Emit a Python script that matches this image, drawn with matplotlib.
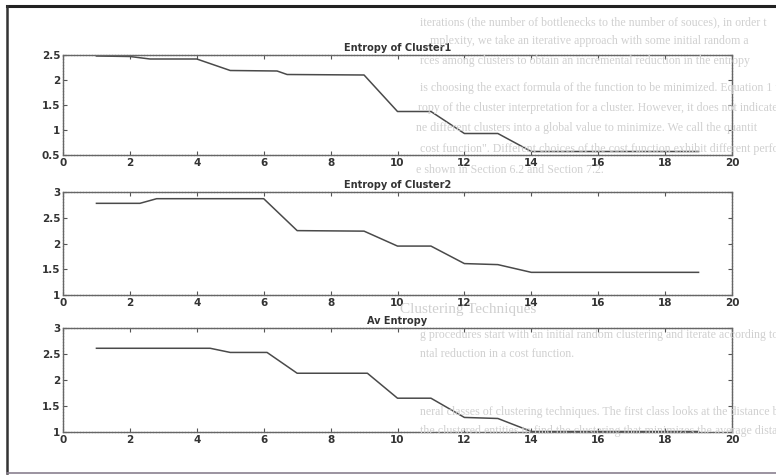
import matplotlib
matplotlib.use("Agg")
import matplotlib.pyplot as plt
from matplotlib.lines import Line2D

# entropy per cluster over iterations
x1 = [1, 2, 2.6, 4, 5, 6.4, 6.7, 9, 10, 11, 12, 13, 14, 19]
y1 = [2.48, 2.47, 2.42, 2.42, 2.19, 2.18, 2.11, 2.10, 1.37, 1.37, 0.93, 0.93, 0.57, 0.57]

x2 = [1, 2.3, 2.8, 6, 7, 9, 10, 11, 12, 13, 14, 19]
y2 = [2.78, 2.78, 2.87, 2.87, 2.25, 2.24, 1.95, 1.95, 1.61, 1.59, 1.44, 1.44]

x3 = [1, 4.4, 5, 6.1, 7, 9.1, 10, 11, 12, 13, 14, 19]
y3 = [2.61, 2.61, 2.53, 2.53, 2.13, 2.13, 1.65, 1.65, 1.28, 1.26, 1.01, 1.01]

titles = ["Entropy of Cluster1", "Entropy of Cluster2", "Av Entropy"]
ylims = [(0.5, 2.5), (1, 3), (1, 3)]
yticks = [[0.5, 1, 1.5, 2, 2.5], [1, 1.5, 2, 2.5, 3], [1, 1.5, 2, 2.5, 3]]
xticks = list(range(0, 21, 2))

# faint page text showing through the scan (x, y in pixels)
bg_lines = [
    (420, 22, "iterations (the number of bottlenecks to the number of souces), in order t"),
    (430, 41, "mplexity, we take an iterative approach with some initial random a"),
    (420, 61, "rces among clusters to obtain an incremental reduction in the entropy"),
    (420, 88, "is choosing the exact formula of the function to be minimized. Equation 1 t"),
    (418, 108, "ropy of the cluster interpretation for a cluster. However, it does not indicate ho"),
    (416, 128, "ne different clusters into a global value to minimize. We call the quantit"),
    (420, 149, "cost function\". Different choices of the cost function exhibit different perfo"),
    (416, 170, "e shown in Section 6.2 and Section 7.2."),
    (400, 310, "Clustering Techniques"),
    (420, 335, "g procedures start with an initial random clustering and iterate according to t"),
    (420, 354, "ntal reduction in a cost function."),
    (420, 412, "neral classes of clustering techniques. The first class looks at the distance b"),
    (420, 431, "the clustered entities to find the clustering that minimizes the average dista"),
]

W, H = 776, 476
fig = plt.figure(figsize=(W / 100, H / 100), dpi=100)
fig.patch.set_facecolor("white")

for bx, by, s in bg_lines:
    fs = 11 if s == "Clustering Techniques" else 8.6
    t = fig.text(bx / W, 1 - by / H, s, fontsize=fs, family="Liberation Serif",
                 color="#d0d0d0", va="center", ha="left", zorder=0)
    t.set_clip_on(True)
    t.set_clip_box(fig.bbox)

# outer frame of the figure panel
fig.add_artist(Line2D([7 / W, 1.0], [1 - 6 / H, 1 - 6 / H], color="#222222", lw=2.2))
fig.add_artist(Line2D([7 / W, 7 / W], [1 - 6 / H, 1 - 473 / H], color="#333333", lw=1.8))
fig.add_artist(Line2D([7 / W, 1.0], [1 - 473 / H, 1 - 473 / H], color="#8a8090", lw=1.2))

tops = [55, 192, 328]
bottoms = [155, 295, 432]
left, right = 63, 732
data = [(x1, y1), (x2, y2), (x3, y3)]

for i in range(3):
    ax = fig.add_axes([left / W, 1 - bottoms[i] / H, (right - left) / W,
                       (bottoms[i] - tops[i]) / H])
    ax.patch.set_alpha(0)
    ax.plot(data[i][0], data[i][1], color="#4a4a4a", lw=1.1)
    ax.set_xlim(0, 20)
    ax.set_ylim(*ylims[i])
    ax.set_xticks(xticks)
    ax.set_yticks(yticks[i])
    ax.set_yticklabels([f"{v:g}" for v in yticks[i]])
    ax.tick_params(direction="in", top=True, right=True, length=3, width=0.8,
                   color="#555555", labelsize=7.5, labelcolor="#333333", pad=2)
    for lab in ax.get_xticklabels() + ax.get_yticklabels():
        lab.set_fontweight("bold")
    for sp in ax.spines.values():
        sp.set_color("#666666")
        sp.set_linewidth(1.0)
        sp.set_linestyle((0, (1.5, 0.6)))
    ax.set_title(titles[i], fontsize=7, fontweight="bold", color="#333333", pad=3)

fig.savefig("out.png", dpi=100)
